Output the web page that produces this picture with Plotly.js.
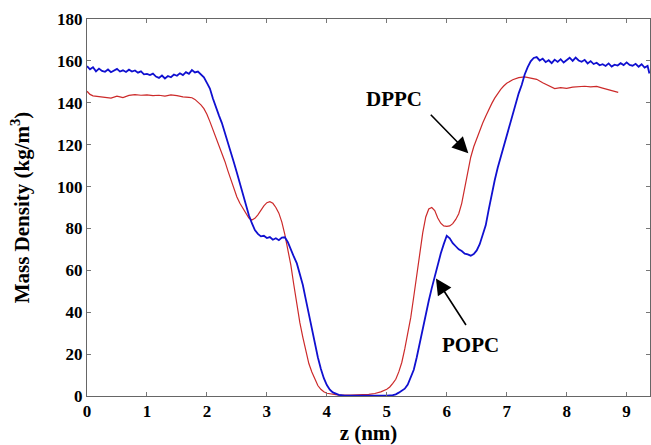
<!DOCTYPE html>
<html>
<head>
<meta charset="utf-8">
<script src="https://cdn.plot.ly/plotly-3.0.1.min.js"></script>
<style>html,body{margin:0;padding:0;background:#fff;}#chart{width:651px;height:445px;}</style>
</head>
<body>
<div id="chart"></div>
<script>
// POPC (blue) mass density profile
var popcZ = [0.00,0.05,0.10,0.15,0.20,0.25,0.30,0.35,0.40,0.45,0.50,0.55,0.60,0.65,0.70,0.75,0.80,0.85,0.90,0.95,
1.00,1.05,1.10,1.15,1.20,1.25,1.30,1.35,1.40,1.45,1.50,1.55,1.60,1.65,1.70,1.75,1.80,1.85,1.90,1.95,
2.00,2.05,2.10,2.15,2.20,2.25,2.30,2.35,2.40,2.45,2.50,2.55,2.60,2.65,2.70,2.75,2.80,2.85,2.90,2.95,
3.00,3.05,3.10,3.15,3.20,3.25,3.30,3.35,3.40,3.45,3.50,3.55,3.60,3.65,3.70,3.75,3.80,3.85,3.90,3.95,
4.00,4.05,4.10,4.15,4.20,4.30,4.50,4.70,4.90,5.00,5.10,5.15,5.20,5.25,5.30,5.35,5.40,5.45,5.50,5.55,
5.60,5.65,5.70,5.75,5.80,5.85,5.90,5.95,6.00,6.05,6.10,6.15,6.20,6.25,6.30,6.35,6.40,6.45,6.50,6.55,
6.60,6.65,6.70,6.75,6.80,6.85,6.90,6.95,7.00,7.05,7.10,7.15,7.20,7.25,7.30,7.35,7.40,7.45,7.50,7.55,
7.60,7.65,7.70,7.75,7.80,7.85,7.90,7.95,8.00,8.05,8.10,8.15,8.20,8.25,8.30,8.35,8.40,8.45,8.50,8.55,
8.60,8.65,8.70,8.75,8.80,8.85,8.90,8.95,9.00,9.05,9.10,9.15,9.20,9.25,9.30,9.35,9.38];
var popcRho = [157.5,156.0,157.0,155.0,156.3,155.2,154.8,155.9,154.6,155.3,156.2,154.9,155.5,154.7,155.8,154.9,155.4,154.4,155.0,153.6,
153.8,153.2,153.9,152.5,151.9,153.0,151.6,152.8,152.2,153.5,152.9,154.1,153.2,154.6,153.8,155.6,154.5,154.9,153.3,152.2,
149.5,146.8,142.0,137.5,134.0,130.3,125.8,121.5,117.0,111.5,106.6,101.5,96.5,91.3,86.3,82.5,79.2,77.4,76.2,76.5,
75.4,75.9,74.6,75.3,74.4,75.6,75.8,73.5,69.5,66.5,63.3,58.0,53.0,46.0,39.0,31.5,24.5,18.5,13.0,8.5,
5.2,3.0,1.7,0.9,0.5,0.2,0.1,0.1,0.1,0.2,0.4,0.8,1.6,2.6,3.5,5.5,9.0,12.5,18.5,25.5,
31.5,38.5,45.5,51.5,57.5,63.0,68.0,72.5,76.5,75.3,73.0,71.5,70.0,69.2,68.0,67.6,67.0,67.8,69.5,72.5,
77.0,81.5,89.0,96.5,103.0,109.0,114.0,120.0,125.0,129.8,134.5,139.0,144.5,148.5,153.5,157.0,159.8,161.4,161.8,160.2,
161.1,159.4,160.3,158.9,160.6,159.5,160.8,159.2,160.4,161.5,160.0,161.6,160.2,159.6,160.5,158.8,159.9,158.5,159.1,157.9,
158.4,157.6,158.8,157.3,158.2,157.8,158.9,158.0,159.3,158.1,157.7,158.6,157.2,158.4,156.8,157.6,154.0];

// DPPC (red) mass density profile
var dppcZ = [0.00,0.05,0.10,0.20,0.30,0.40,0.50,0.60,0.70,0.80,0.90,1.00,1.10,1.20,1.30,1.40,1.50,1.60,1.70,1.75,
1.80,1.85,1.90,1.95,2.00,2.05,2.10,2.15,2.20,2.25,2.30,2.35,2.40,2.45,2.50,2.55,2.60,2.65,2.70,2.75,
2.80,2.85,2.90,2.95,3.00,3.05,3.10,3.15,3.20,3.25,3.30,3.35,3.40,3.45,3.50,3.55,3.60,3.65,3.70,3.75,
3.80,3.85,3.90,3.95,4.00,4.10,4.20,4.40,4.60,4.70,4.80,4.90,5.00,5.05,5.10,5.15,5.20,5.25,5.30,5.35,
5.40,5.45,5.50,5.55,5.60,5.65,5.70,5.75,5.80,5.85,5.90,5.95,6.00,6.05,6.10,6.15,6.20,6.25,6.30,6.35,
6.40,6.45,6.50,6.55,6.60,6.65,6.70,6.75,6.80,6.85,6.90,6.95,7.00,7.10,7.20,7.30,7.40,7.50,7.60,7.70,
7.80,7.90,8.00,8.10,8.20,8.30,8.40,8.50,8.60,8.70,8.80,8.86];
var dppcRho = [145.5,144.0,143.3,143.0,142.6,142.2,143.2,142.5,143.5,143.9,143.6,143.8,143.4,143.6,143.2,143.8,143.4,142.8,142.6,142.4,
141.6,140.5,139.0,137.2,134.5,131.0,127.3,123.5,119.8,116.0,112.0,107.5,103.0,98.5,95.0,92.0,89.5,87.3,85.0,84.0,
84.8,86.5,88.7,90.8,92.3,92.8,92.0,90.0,87.3,83.0,77.0,70.0,62.5,53.0,43.5,35.0,28.0,21.0,15.5,11.5,
7.8,5.0,3.2,2.0,1.3,0.7,0.4,0.4,0.6,0.8,1.2,2.0,3.2,4.3,6.0,8.0,11.5,16.0,22.5,29.5,
37.5,47.5,58.5,68.5,78.0,85.5,89.3,90.0,88.5,85.0,82.5,81.2,81.0,81.2,82.3,84.3,87.0,92.0,99.0,107.0,
114.0,119.0,123.0,126.8,130.3,133.6,136.8,139.6,142.2,144.5,146.4,148.0,149.3,151.0,152.0,152.4,151.8,151.2,149.6,148.0,
146.8,147.2,146.9,147.5,147.8,147.9,147.6,147.8,147.0,146.3,145.6,145.0];

var xTicks = [0,1,2,3,4,5,6,7,8,9];
var yTicks = [0,20,40,60,80,100,120,140,160,180];

var serif = 'Liberation Serif, Times New Roman, serif';

var traces = [
  {x: dppcZ, y: dppcRho, mode: 'lines', name: 'DPPC', line: {color: '#cc2a2a', width: 1.2}},
  {x: popcZ, y: popcRho, mode: 'lines', name: 'POPC', line: {color: '#1010d0', width: 1.8}}
];

var layout = {
  width: 651, height: 445,
  margin: {l: 87, r: 1, t: 19, b: 49},
  paper_bgcolor: '#fff', plot_bgcolor: '#fff',
  showlegend: false,
  font: {family: serif, color: '#000'},
  xaxis: {
    range: [0, 9.39], tickvals: xTicks, ticktext: xTicks.map(function (v) { return '<b>' + v + '</b>'; }),
    ticks: 'inside', ticklen: 4, tickcolor: '#777', tickwidth: 1,
    showline: true, linecolor: '#666', linewidth: 1, mirror: 'ticks',
    showgrid: false, zeroline: false,
    tickfont: {family: serif, size: 17, color: '#000'},
    title: {text: '<b>z (nm)</b>', font: {family: serif, size: 21, color: '#000'}, standoff: 8}
  },
  yaxis: {
    range: [0, 180], tickvals: yTicks, ticktext: yTicks.map(function (v) { return '<b>' + v + '</b>'; }),
    ticks: 'inside', ticklen: 4, tickcolor: '#777', tickwidth: 1,
    showline: true, linecolor: '#666', linewidth: 1, mirror: 'ticks',
    showgrid: false, zeroline: false,
    tickfont: {family: serif, size: 17, color: '#000'},
    title: {text: '<b>Mass Density (kg/m<sup>3</sup>)</b>', font: {family: serif, size: 21, color: '#000'}, standoff: 21}
  },
  annotations: [
    {x: 5.12, y: 141.8, xref: 'x', yref: 'y', text: '<b>DPPC</b>', showarrow: false,
     font: {family: serif, size: 21, color: '#000'}},
    {x: 6.39, y: 24.2, xref: 'x', yref: 'y', text: '<b>POPC</b>', showarrow: false,
     font: {family: serif, size: 21, color: '#000'}},
    {x: 6.36, y: 115.9, xref: 'x', yref: 'y', text: '', showarrow: true,
     ax: -39, ay: -40, arrowhead: 2, arrowsize: 2, arrowwidth: 1.6, arrowcolor: '#000', standoff: 0},
    {x: 5.82, y: 56.1, xref: 'x', yref: 'y', text: '', showarrow: true,
     ax: 31, ay: 48, arrowhead: 2, arrowsize: 2, arrowwidth: 1.6, arrowcolor: '#000', standoff: 0}
  ]
};

Plotly.newPlot('chart', traces, layout, {staticPlot: true, displayModeBar: false});
</script>
</body>
</html>
